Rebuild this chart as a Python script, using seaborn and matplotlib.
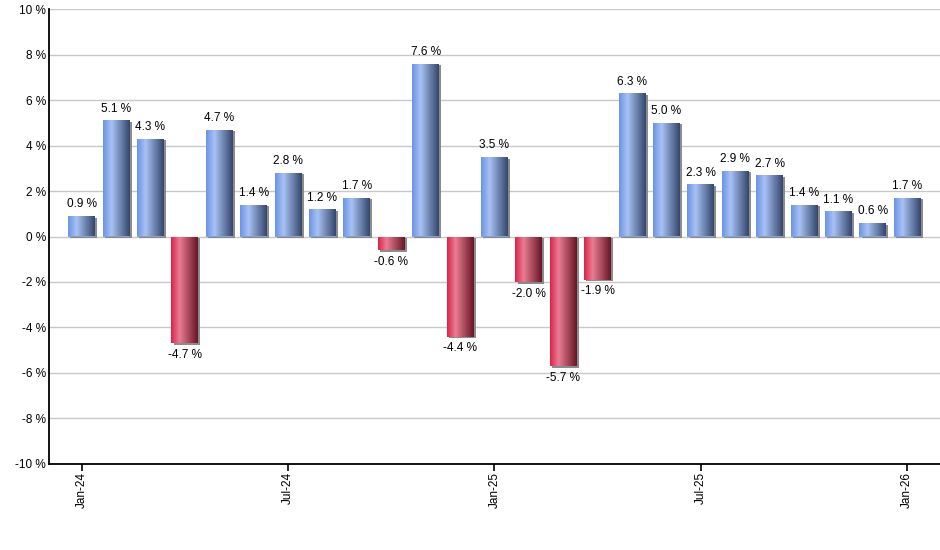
import matplotlib
matplotlib.use("Agg")
import matplotlib.pyplot as plt
import matplotlib.patheffects as pe
from matplotlib.colors import LinearSegmentedColormap
import seaborn as sns
import pandas as pd
import numpy as np

# monthly returns, Jan-24 .. Jan-26
months = ["Jan-24", "Feb-24", "Mar-24", "Apr-24", "May-24", "Jun-24", "Jul-24",
          "Aug-24", "Sep-24", "Oct-24", "Nov-24", "Dec-24", "Jan-25", "Feb-25",
          "Mar-25", "Apr-25", "May-25", "Jun-25", "Jul-25", "Aug-25", "Sep-25",
          "Oct-25", "Nov-25", "Dec-25", "Jan-26"]
values = [0.9, 5.1, 4.3, -4.7, 4.7, 1.4, 2.8, 1.2, 1.7, -0.6, 7.6, -4.4, 3.5,
          -2.0, -5.7, -1.9, 6.3, 5.0, 2.3, 2.9, 2.7, 1.4, 1.1, 0.6, 1.7]
tick_labels = ["Jan-24", "Jul-24", "Jan-25", "Jul-25", "Jan-26"]
y_ticks = [-10, -8, -6, -4, -2, 0, 2, 4, 6, 8, 10]

df = pd.DataFrame({"month": months, "value": values})
df["sign"] = np.where(df["value"] >= 0, "pos", "neg")

sns.set_style("white")
plt.rcParams["font.family"] = ["Liberation Sans", "DejaVu Sans"]
plt.rcParams["text.color"] = "black"
plt.rcParams["xtick.color"] = "black"
plt.rcParams["ytick.color"] = "black"

blue_cmap = LinearSegmentedColormap.from_list(
    "blue", [(0, "#6a92e6"), (0.32, "#a8c2f4"), (1, "#33456b")])
red_cmap = LinearSegmentedColormap.from_list(
    "red", [(0, "#dc2247"), (0.32, "#ea7d93"), (1, "#661525")])

fig = plt.figure(figsize=(9.4, 5.5), dpi=100)
ax = fig.add_axes([0.0521, 0.1564, 0.9479, 0.8272])

sns.barplot(data=df, x="month", y="value", hue="sign",
            palette={"pos": "#7c9ee0", "neg": "#c8405e"},
            width=0.78, legend=False, ax=ax, zorder=2,
            edgecolor="none", linewidth=0)

# gradient fill + small shadow on every bar
grad = np.linspace(0, 1, 256).reshape(1, -1)
for patch in ax.patches:
    h = patch.get_height()
    if h == 0 or np.isnan(h):
        continue
    x0 = patch.get_x()
    w = patch.get_width()
    y0 = patch.get_y()
    patch.set_edgecolor("none")
    patch.set_path_effects([pe.SimplePatchShadow(offset=(1.5, -1.2),
                                                 shadow_rgbFace="#808080",
                                                 alpha=0.9), pe.Normal()])
    cmap = blue_cmap if h > 0 else red_cmap
    im = ax.imshow(grad, cmap=cmap, aspect="auto",
                   extent=(x0, x0 + w, y0, y0 + h), zorder=3,
                   interpolation="bilinear")
    im.set_clip_path(patch)

ax.set_xlim(-0.95, 24.95)
ax.set_ylim(-10, 10)

# value labels
for i, v in enumerate(values):
    if v >= 0:
        ax.annotate(f"{v:.1f} %", (i, v), xytext=(0, 4), textcoords="offset points",
                    ha="center", va="bottom", fontsize=8.5, color="black")
    else:
        ax.annotate(f"{v:.1f} %", (i, v), xytext=(0, -4), textcoords="offset points",
                    ha="center", va="top", fontsize=8.5, color="black")

ax.set_yticks(y_ticks)
ax.set_yticklabels([f"{t} %" for t in y_ticks], fontsize=8.5)
ax.set_xticks([months.index(t) for t in tick_labels])
ax.set_xticklabels(tick_labels, rotation=90, fontsize=8.5)
ax.tick_params(axis="y", length=0, pad=2)
ax.tick_params(axis="x", length=5, width=1.2, color="black", pad=1, bottom=True)

ax.grid(axis="y", color="#c8c8c8", linewidth=1)
ax.set_axisbelow(True)
ax.set_xlabel("")
ax.set_ylabel("")

for s in ["top", "right"]:
    ax.spines[s].set_visible(False)
for s in ["left", "bottom"]:
    ax.spines[s].set_color("black")
    ax.spines[s].set_linewidth(1.3)

fig.savefig("out.png", dpi=100)
